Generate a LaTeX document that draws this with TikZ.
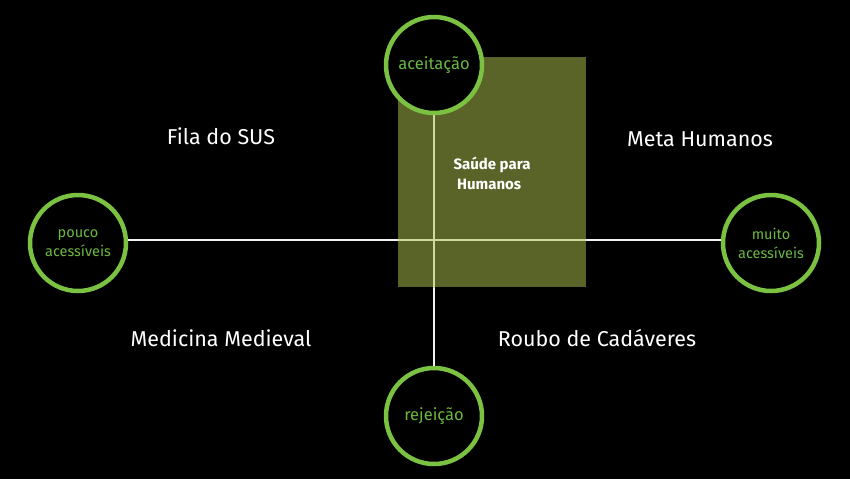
\documentclass[tikz,border=0pt]{standalone}
\usepackage{fontspec}
\setmainfont{Fira Sans}
\definecolor{bg}{HTML}{000000}
\definecolor{olive}{HTML}{5A6429}
\definecolor{ring}{HTML}{7CC242}
\definecolor{ringtext}{HTML}{6AB843}
\definecolor{axis}{HTML}{F2F2F2}
\definecolor{axisin}{HTML}{CFDB9A}
\begin{document}
\begin{tikzpicture}[x=1pt,y=-1pt,
  pole/.style={circle, draw=ring, line width=4.5pt, fill=black, minimum size=96pt, inner sep=0pt,
    text=ringtext, align=center},
  bigpole/.style={pole, font=\fontsize{16.5}{19}\selectfont},
  smallpole/.style={pole, font=\fontsize{14.5}{19}\selectfont},
  quad/.style={text=white, font=\fontsize{21.5}{24}\selectfont},
  axisline/.style={line width=2.2pt}]
\fill[bg] (0,0) rectangle (850,479);
\useasboundingbox (0,0) rectangle (850,479);
\fill[olive] (398,57) rectangle (586,287);
\node[bigpole] (top) at (434,65) {aceitação};
\node[smallpole] (left) at (78,243) {pouco\\acessíveis};
\node[smallpole] (right) at (771,243) {muito\\acessíveis};
\node[bigpole] (bottom) at (434,416) {rejeição};
\draw[axisline, axis] (left.east |- 0,240) -- (right.west |- 0,240);
\draw[axisline, axis] (top.south) -- (bottom.north);
\begin{scope}
\clip (398,57) rectangle (586,287);
\draw[axisline, axisin] (left.east |- 0,240) -- (right.west |- 0,240);
\draw[axisline, axisin] (top.south) -- (bottom.north);
\end{scope}
\node[text=white, font=\bfseries\fontsize{15}{20}\selectfont, align=left] (center) at (492,173) {Saúde para\\\ Humanos};
\node[quad] (q1) at (221,136) {Fila do SUS};
\node[quad] (q2) at (700,139) {Meta Humanos};
\node[quad] (q3) at (221,338) {Medicina Medieval};
\node[quad] (q4) at (597,338) {Roubo de Cadáveres};
\end{tikzpicture}
\end{document}
